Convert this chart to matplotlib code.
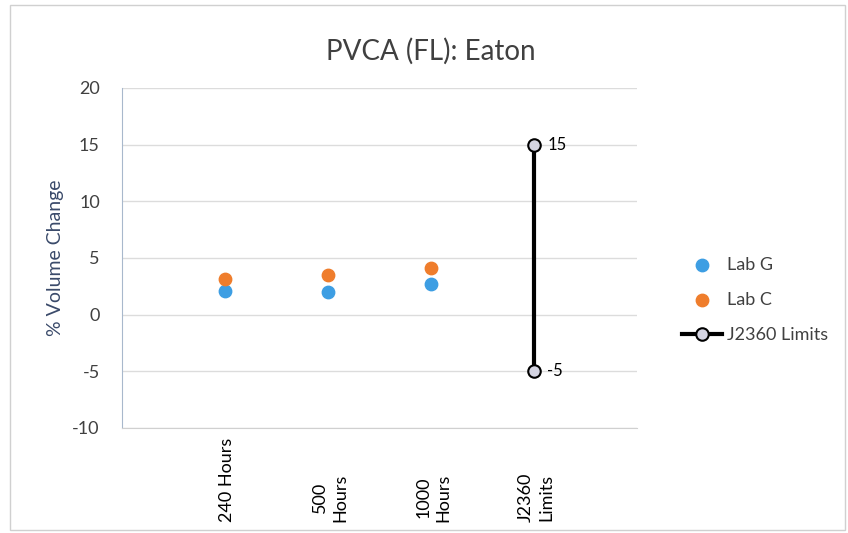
import matplotlib.pyplot as plt
from matplotlib.patches import Rectangle

# data
categories = ["240 Hours", "500\nHours", "1000\nHours", "J2360\nLimits"]
lab_g = [2.1, 2.0, 2.7]
lab_c = [3.15, 3.5, 4.1]
limits = [-5, 15]
yticks = [-10, -5, 0, 5, 10, 15, 20]

plt.rcParams['font.family'] = ['Lato', 'DejaVu Sans']
text_color = "#404040"

fig = plt.figure(figsize=(8.48, 5.33), dpi=100)
ax = fig.add_axes([0.1439, 0.197, 0.6073, 0.638])

# outer chart border
fig.patches.append(Rectangle((0.012, 0.005), 0.985, 0.985, transform=fig.transFigure,
                             fill=False, edgecolor="#d0d0d0", linewidth=1))

xpos = list(range(1, len(categories) + 1))

ax.scatter(xpos[:3], lab_g, s=80, color="#3d9ee3", label="Lab G", zorder=3)
ax.scatter(xpos[:3], lab_c, s=80, color="#ef7d2c", label="Lab C", zorder=3)
ax.plot([xpos[3]] * 2, limits, color="black", linewidth=3, marker="o",
        markersize=9, markerfacecolor="#d4d4e2", markeredgecolor="black",
        markeredgewidth=1.5, label="J2360 Limits", zorder=4)

for v in limits:
    ax.text(xpos[3] + 0.13, v, str(v), va="center", ha="left", fontsize=12, color="black")

ax.set_xlim(0, 5)
ax.set_ylim(-10, 20)
ax.set_yticks(yticks)
ax.set_yticklabels([str(t) for t in yticks], fontsize=13, color=text_color)
ax.tick_params(axis="y", length=0, pad=16)
ax.set_xticks([])
ax.grid(axis="y", color="#dcdcdc", linewidth=1)
ax.set_axisbelow(True)

for name in ["top", "right"]:
    ax.spines[name].set_visible(False)
ax.spines["left"].set_color("#a8b8cc")
ax.spines["bottom"].set_color("#d0d0d0")

for x, lab in zip(xpos, categories):
    ax.text(x + 0.02, -0.276, lab, transform=ax.get_xaxis_transform(), rotation=90,
            ha="center", va="bottom", fontsize=13, color="black", linespacing=1.3)

ax.set_ylabel("% Volume Change", fontsize=14, color="#3a4a6a", labelpad=6)
ax.set_title("PVCA (FL): Eaton", fontsize=20, color=text_color, pad=20, x=0.6)

fig.legend(loc="center left", bbox_to_anchor=(0.785, 0.437), frameon=False,
           fontsize=13, labelspacing=1.05, handlelength=2.2, handletextpad=0.3,
           labelcolor=text_color)

fig.savefig("out.png", dpi=100)
